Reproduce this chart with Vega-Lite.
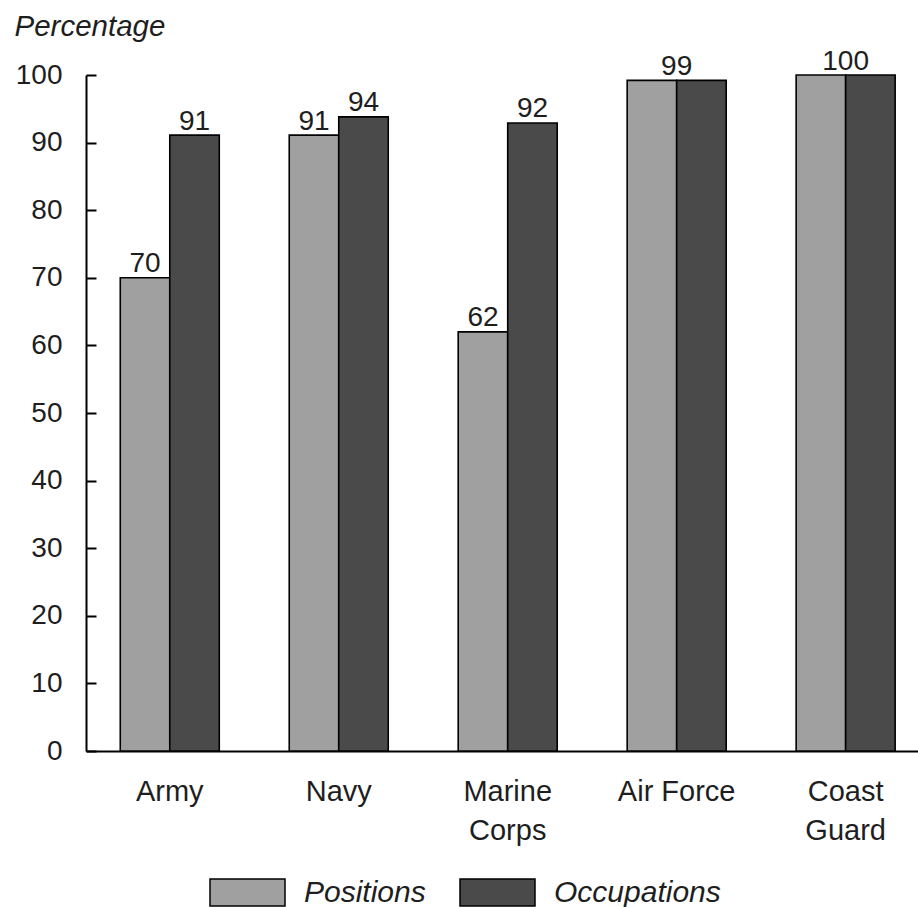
{
  "$schema": "https://vega.github.io/schema/vega-lite/v6.json",
  "width": 832,
  "height": 676,
  "autosize": {"type": "none"},
  "padding": {"left": 86, "top": 75, "right": 0, "bottom": 156},
  "background": "white",
  "config": {
    "view": {"stroke": null},
    "font": "Liberation Sans",
    "text": {"font": "Liberation Sans"}
  },
  "data": {
    "values": [
      {"branch": "Army", "measure": "Positions", "value": 70, "label": "70"},
      {"branch": "Army", "measure": "Occupations", "value": 91.1, "label": "91"},
      {"branch": "Navy", "measure": "Positions", "value": 91.1, "label": "91"},
      {"branch": "Navy", "measure": "Occupations", "value": 93.8, "label": "94"},
      {"branch": "Marine Corps", "measure": "Positions", "value": 62, "label": "62"},
      {"branch": "Marine Corps", "measure": "Occupations", "value": 92.9, "label": "92"},
      {"branch": "Air Force", "measure": "Positions", "value": 99.2, "label": null},
      {"branch": "Air Force", "measure": "Occupations", "value": 99.2, "label": "99"},
      {"branch": "Coast Guard", "measure": "Positions", "value": 100, "label": null},
      {"branch": "Coast Guard", "measure": "Occupations", "value": 100, "label": "100"}
    ]
  },
  "encoding": {
    "x": {
      "field": "branch",
      "type": "nominal",
      "sort": ["Army", "Navy", "Marine Corps", "Air Force", "Coast Guard"],
      "scale": {"paddingInner": 0.414, "paddingOuter": 0.169, "align": 0.6},
      "axis": {
        "title": null,
        "labelAngle": 0,
        "ticks": false,
        "domainColor": "black",
        "domainWidth": 2,
        "labelFontSize": 29,
        "labelColor": "#1e1e1e",
        "labelBaseline": "top",
        "labelPadding": 26,
        "labelLineHeight": 39,
        "labelExpr": "indexof(['Marine Corps','Coast Guard'], datum.label) >= 0 ? split(datum.label, ' ') : datum.label"
      }
    },
    "y": {
      "field": "value",
      "type": "quantitative",
      "scale": {"domain": [0, 100], "nice": false},
      "axis": {
        "values": [0, 10, 20, 30, 40, 50, 60, 70, 80, 90, 100],
        "grid": false,
        "domainColor": "black",
        "domainWidth": 2,
        "tickColor": "black",
        "tickWidth": 2,
        "tickSize": -10,
        "labelPadding": 34,
        "labelFontSize": 28,
        "labelColor": "#1e1e1e",
        "title": "Percentage",
        "titleAngle": 0,
        "titleFont": "Liberation Sans",
        "titleFontStyle": "italic",
        "titleFontWeight": "normal",
        "titleFontSize": 29.5,
        "titleColor": "#1e1e1e",
        "titleAlign": "left",
        "titleBaseline": "alphabetic",
        "titleX": -72,
        "titleY": -40
      }
    }
  },
  "layer": [
    {
      "mark": {"type": "bar", "stroke": "black", "strokeWidth": 1.6},
      "encoding": {
        "xOffset": {"field": "measure", "type": "nominal", "sort": ["Positions", "Occupations"], "scale": {"paddingInner": 0, "paddingOuter": 0}},
        "color": {
          "field": "measure",
          "type": "nominal",
          "scale": {"domain": ["Positions", "Occupations"], "range": ["#a0a0a0", "#4a4a4a"]},
          "legend": {
            "orient": "none",
            "legendX": 123,
            "legendY": 779,
            "direction": "horizontal",
            "title": null,
            "padding": 0,
            "symbolType": "M-1,-0.36H1V0.36H-1Z",
            "symbolSize": 5625,
            "symbolStrokeColor": "black",
            "symbolStrokeWidth": 1.5,
            "symbolOpacity": 1,
            "labelFont": "Liberation Sans",
            "labelFontSize": 30,
            "labelFontStyle": "italic",
            "labelColor": "#1e1e1e",
            "labelOffset": 18,
            "labelLimit": 400,
            "columnPadding": 31
          }
        }
      }
    },
    {
      "transform": [{"filter": "datum.label != null && datum.branch != 'Air Force' && datum.branch != 'Coast Guard'"}],
      "mark": {"type": "text", "baseline": "alphabetic", "dy": -5.5, "fontSize": 28, "color": "#1e1e1e"},
      "encoding": {
        "xOffset": {"field": "measure", "type": "nominal", "sort": ["Positions", "Occupations"]},
        "text": {"field": "label"}
      }
    },
    {
      "transform": [{"filter": "datum.label != null && (datum.branch == 'Air Force' || datum.branch == 'Coast Guard')"}],
      "mark": {"type": "text", "baseline": "alphabetic", "dy": -5.5, "fontSize": 28, "color": "#1e1e1e"},
      "encoding": {
        "text": {"field": "label"}
      }
    }
  ]
}
